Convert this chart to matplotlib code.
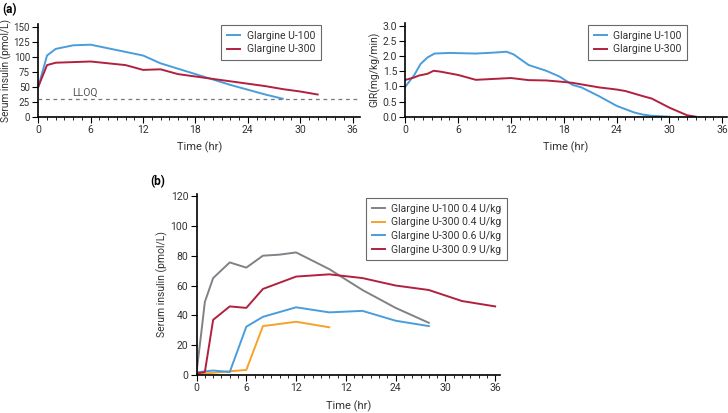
import numpy as np
import matplotlib
matplotlib.use("Agg")
import matplotlib.pyplot as plt
from matplotlib.ticker import MultipleLocator, FormatStrFormatter

plt.rcParams['font.family'] = ['Roboto', 'DejaVu Sans']
plt.rcParams['font.size'] = 8

BLUE = "#4a9ddc"
RED = "#b1213f"
GRAY = "#7f8286"
ORANGE = "#f5a22a"

# (a) left: serum insulin
t_u100 = [0, 1, 2, 4, 6, 8, 10, 12, 14, 16, 18, 20, 22, 24, 26, 28]
ins_u100 = [50, 102, 113, 119, 120, 114, 108, 102, 89, 80, 71, 62, 53, 45, 37, 30]
t_u300 = [0, 1, 2, 4, 6, 8, 10, 12, 14, 16, 18, 20, 22, 24, 26, 28, 30, 32]
ins_u300 = [50, 86, 90, 91, 92, 89, 86, 78, 79, 71, 67, 63, 59, 55, 51, 46, 42, 37]
lloq = 30

# (a) right: glucose infusion rate
t_gir100 = [0, 1, 1.7, 2.5, 3.3, 5, 8, 10, 11.5, 12.3, 14, 16, 17.5, 19, 20, 22, 24, 26, 27, 28, 30]
gir_u100 = [1.0, 1.38, 1.74, 1.96, 2.09, 2.11, 2.09, 2.12, 2.15, 2.06, 1.71, 1.52, 1.33, 1.05, 0.97, 0.68, 0.36, 0.14, 0.07, 0.03, 0.0]
t_gir300 = [0, 1, 1.5, 2.5, 3.2, 4, 6, 8, 10, 12, 14, 16, 18, 19, 22, 24, 25, 27, 28, 30, 32, 33]
gir_u300 = [1.22, 1.3, 1.36, 1.42, 1.52, 1.49, 1.38, 1.22, 1.25, 1.28, 1.21, 1.2, 1.15, 1.12, 0.97, 0.9, 0.85, 0.68, 0.6, 0.3, 0.05, 0.0]

# (b) dose comparison
t_b1 = [0, 0.5, 1, 2, 4, 6, 8, 10, 12, 16, 20, 24, 28]
b_u100_04 = [2, 25, 49, 65, 75.5, 72, 80, 80.7, 82.2, 71, 57, 45, 35]
t_b2 = [0, 2, 4, 6, 8, 12, 16]
b_u300_04 = [0.5, 1.5, 2.5, 3.4, 32.8, 35.7, 32]
t_b3 = [0, 2, 4, 6, 8, 12, 16, 20, 24, 28]
b_u300_06 = [1.8, 3, 2, 32.4, 39, 45.4, 42, 43, 36.4, 32.8]
t_b4 = [0, 1, 2, 4, 6, 8, 12, 16, 20, 24, 28, 32, 36]
b_u300_09 = [1, 2, 37, 46, 45, 57.7, 66, 67.5, 65, 60, 57, 49.6, 46]
b_xlabels = ["0", "6", "12", "12", "24", "30", "36"]

fig = plt.figure(figsize=(7.28, 4.13), dpi=100)
ax1 = fig.add_axes([0.0526, 0.7174, 0.4419, 0.2245])
ax2 = fig.add_axes([0.557, 0.7174, 0.441, 0.2276])
ax3 = fig.add_axes([0.270, 0.092, 0.417, 0.438])


def style(ax):
    for s in ("top", "right"):
        ax.spines[s].set_visible(False)
    for s in ("left", "bottom"):
        ax.spines[s].set_linewidth(1.2)
    ax.xaxis.set_major_locator(MultipleLocator(6))
    ax.xaxis.set_minor_locator(MultipleLocator(1))
    ax.tick_params(which="major", length=4, width=0.8, pad=2, labelsize=7.5,
                   labelcolor="#333333")
    ax.tick_params(which="minor", length=2.5, width=0.6)


def legend(ax, x, y):
    leg = ax.legend(loc="upper left", bbox_to_anchor=(x, y), fancybox=False,
                    frameon=True, fontsize=7.5, handlelength=1.3,
                    handletextpad=0.6, borderpad=0.55, labelspacing=0.35,
                    borderaxespad=0)
    leg.get_frame().set_edgecolor("#444444")
    leg.get_frame().set_linewidth(0.8)
    for txt in leg.get_texts():
        txt.set_color("#333333")


ax1.plot(t_u100, ins_u100, color=BLUE, lw=1.4, label="Glargine U-100")
ax1.plot(t_u300, ins_u300, color=RED, lw=1.4, label="Glargine U-300")
ax1.axhline(lloq, color="#777777", lw=0.9, ls=(0, (3, 3)))
ax1.text(3.9, lloq + 1.5, "LLOQ", color="#555555", fontsize=7.5, va="bottom")
style(ax1)
ax1.tick_params(axis="y", labelsize=7)
ax1.set_xlim(0, 36.85)
ax1.set_ylim(0, 154.5)
ax1.yaxis.set_major_locator(MultipleLocator(25))
ax1.set_ylabel("Serum insulin (pmol/L)", fontsize=7.3, color="#333333")
ax1.yaxis.set_label_coords(-0.082, 0.5)
ax1.set_xlabel("Time (hr)", fontsize=8, labelpad=5, color="#333333")
legend(ax1, 0.568, 0.99)

ax2.plot(t_gir100, gir_u100, color=BLUE, lw=1.4, label="Glargine U-100")
ax2.plot(t_gir300, gir_u300, color=RED, lw=1.4, label="Glargine U-300")
style(ax2)
ax2.set_xlim(0, 36.5)
ax2.set_ylim(0, 3.11)
ax2.yaxis.set_major_locator(MultipleLocator(0.5))
ax2.yaxis.set_major_formatter(FormatStrFormatter("%.1f"))
ax2.set_ylabel("GIR(mg/kg/min)", fontsize=7.5, labelpad=2, color="#333333")
ax2.set_xlabel("Time (hr)", fontsize=8, labelpad=5, color="#333333")
legend(ax2, 0.568, 0.975)

ax3.plot(t_b1, b_u100_04, color=GRAY, lw=1.4, label="Glargine U-100 0.4 U/kg")
ax3.plot(t_b2, b_u300_04, color=ORANGE, lw=1.4, label="Glargine U-300 0.4 U/kg")
ax3.plot(t_b3, b_u300_06, color=BLUE, lw=1.4, label="Glargine U-300 0.6 U/kg")
ax3.plot(t_b4, b_u300_09, color=RED, lw=1.4, label="Glargine U-300 0.9 U/kg")
style(ax3)
ax3.set_xlim(0, 36.6)
ax3.set_ylim(0, 121.3)
ax3.set_xticks(np.arange(0, 37, 6))
ax3.set_xticklabels(b_xlabels)
ax3.yaxis.set_major_locator(MultipleLocator(20))
ax3.set_ylabel("Serum insulin (pmol/L)", fontsize=7.5, labelpad=2, color="#333333")
ax3.set_xlabel("Time (hr)", fontsize=8, labelpad=5, color="#333333")
legend(ax3, 0.558, 0.978)

fig.text(0.003, 0.978, "(a)", fontsize=8.5, fontweight="bold", va="center")
fig.text(0.206, 0.56, "(b)", fontsize=8.5, fontweight="bold", va="center")

fig.savefig("out.png", dpi=100)
